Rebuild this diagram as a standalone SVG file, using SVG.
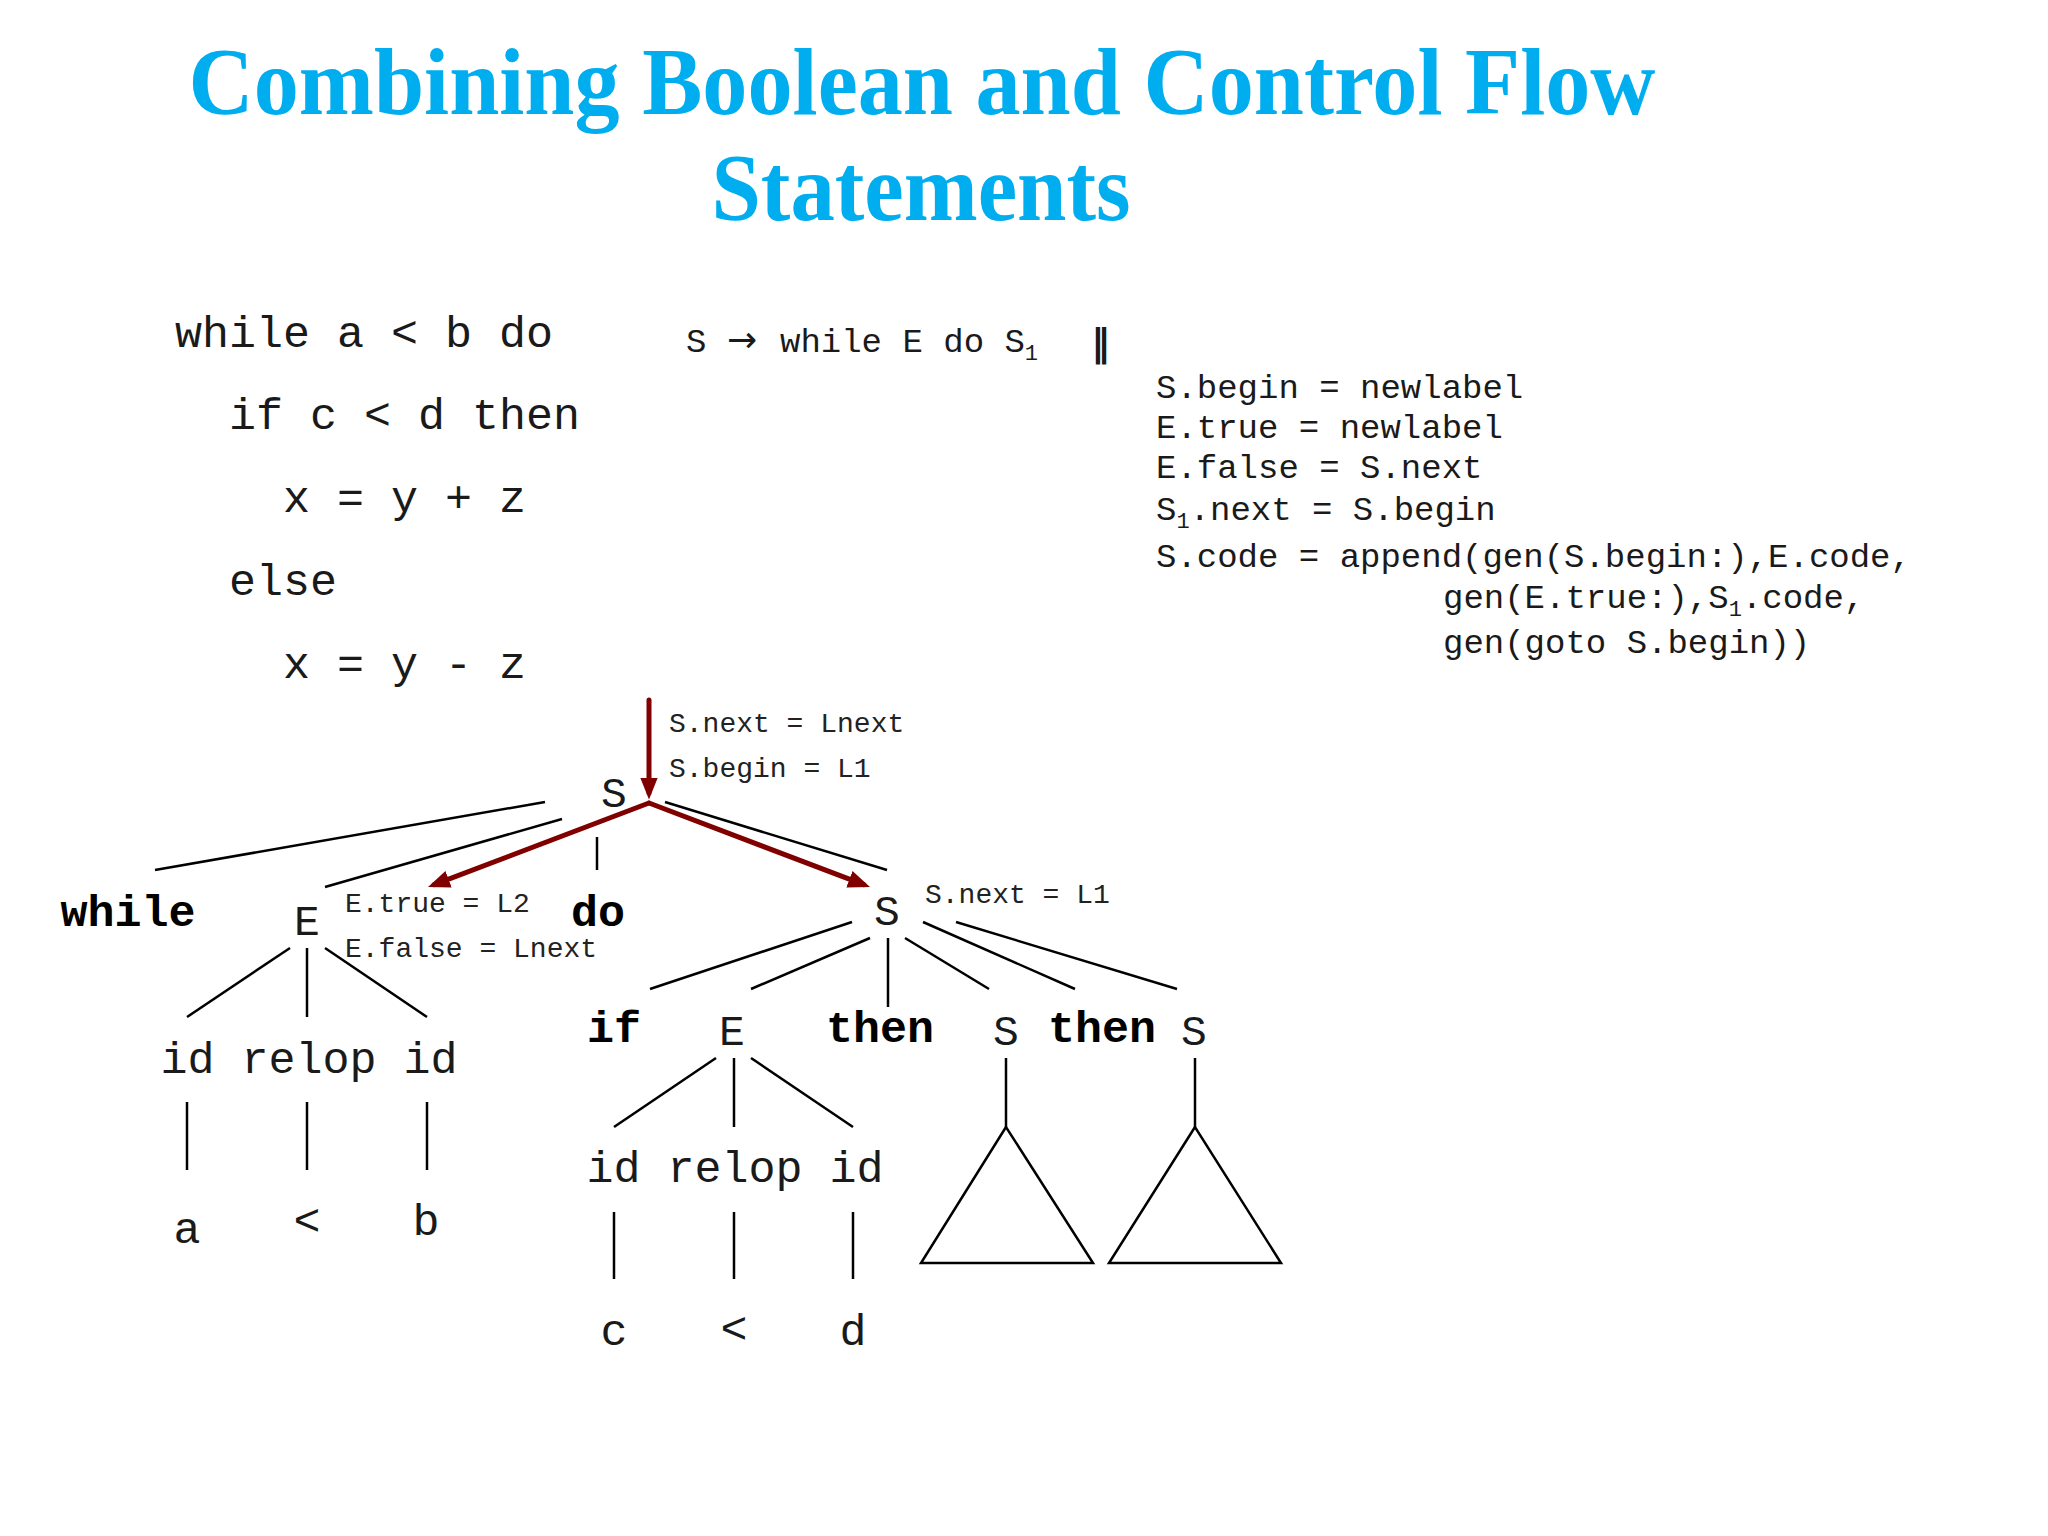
<svg xmlns="http://www.w3.org/2000/svg" width="2048" height="1536" viewBox="0 0 2048 1536">
<defs>
<style>
.title{font-family:"Liberation Serif","Times New Roman",serif;font-weight:bold;font-size:96px;fill:#00AEEF;text-anchor:middle}
.code{font-family:"Liberation Mono","Courier New",monospace;font-size:45px;fill:#1a1a1a}
.rule{font-family:"Liberation Mono","Courier New",monospace;font-size:34px;fill:#1a1a1a}
.sub{font-size:22px}
.attr{font-family:"Liberation Mono","Courier New",monospace;font-size:28px;fill:#222}
.nt{font-family:"Liberation Mono","Courier New",monospace;font-size:43px;fill:#1a1a1a;text-anchor:middle}
.kw{font-family:"Liberation Mono","Courier New",monospace;font-size:45px;font-weight:bold;fill:#000;text-anchor:middle}
.edge{stroke:#000;stroke-width:2.5;fill:none}
.red{stroke:#800000;stroke-width:5;fill:none;stroke-linecap:round}
</style>
<marker id="ah" viewBox="0 0 10 8" markerWidth="4.4" markerHeight="3.6" refX="7" refY="4" orient="auto" markerUnits="strokeWidth">
<path d="M0,0 L10,4 L0,8 z" fill="#800000"/>
</marker>
</defs>
<rect width="2048" height="1536" fill="#fff"/>

<g id="title">
<text class="title" x="922" y="114" textLength="1467" lengthAdjust="spacingAndGlyphs">Combining Boolean and Control Flow</text>
<text class="title" x="921" y="220" textLength="419" lengthAdjust="spacingAndGlyphs">Statements</text>
</g>

<g id="source-code">
<text class="code" x="175" y="347">while a &lt; b do</text>
<text class="code" x="229" y="429">if c &lt; d then</text>
<text class="code" x="283" y="512">x = y + z</text>
<text class="code" x="229" y="595">else</text>
<text class="code" x="283" y="678">x = y - z</text>
</g>

<g id="production">
<text class="rule" x="686" y="352">S</text>
<text class="rule" x="727" y="352" style="font-family:'DejaVu Sans',sans-serif;font-size:36px">→</text>
<text class="rule" x="780" y="352">while E do S<tspan class="sub" dy="8">1</tspan></text>
<text class="rule" x="1091" y="355" style="font-family:'DejaVu Sans',sans-serif;font-size:38px;font-weight:bold">‖</text>
</g>

<g id="semantic-rules">
<text class="rule" x="1156" y="398">S.begin = newlabel</text>
<text class="rule" x="1156" y="438">E.true = newlabel</text>
<text class="rule" x="1156" y="478">E.false = S.next</text>
<text class="rule" x="1156" y="520">S<tspan class="sub" dy="8">1</tspan><tspan dy="-8">.next = S.begin</tspan></text>
<text class="rule" x="1156" y="567">S.code = append(gen(S.begin:),E.code,</text>
<text class="rule" x="1443" y="608">gen(E.true:),S<tspan class="sub" dy="8">1</tspan><tspan dy="-8">.code,</tspan></text>
<text class="rule" x="1443" y="653">gen(goto S.begin))</text>
</g>

<g id="connectors">
<line class="edge" x1="545" y1="802" x2="155" y2="870"/>
<line class="edge" x1="562" y1="819" x2="325" y2="887"/>
<line class="edge" x1="597" y1="837" x2="597" y2="870"/>
<line class="edge" x1="665" y1="802" x2="887" y2="870"/>
<line class="edge" x1="290" y1="948" x2="187" y2="1017"/>
<line class="edge" x1="307" y1="948" x2="307" y2="1017"/>
<line class="edge" x1="325" y1="948" x2="427" y2="1017"/>
<line class="edge" x1="187" y1="1102" x2="187" y2="1170"/>
<line class="edge" x1="307" y1="1102" x2="307" y2="1170"/>
<line class="edge" x1="427" y1="1102" x2="427" y2="1170"/>
<line class="edge" x1="852" y1="922" x2="650" y2="989"/>
<line class="edge" x1="870" y1="938" x2="751" y2="989"/>
<line class="edge" x1="888" y1="938" x2="888" y2="1007"/>
<line class="edge" x1="905" y1="938" x2="989" y2="989"/>
<line class="edge" x1="923" y1="922" x2="1075" y2="989"/>
<line class="edge" x1="956" y1="922" x2="1177" y2="989"/>
<line class="edge" x1="716" y1="1058" x2="614" y2="1127"/>
<line class="edge" x1="734" y1="1058" x2="734" y2="1127"/>
<line class="edge" x1="751" y1="1058" x2="853" y2="1127"/>
<line class="edge" x1="614" y1="1212" x2="614" y2="1279"/>
<line class="edge" x1="734" y1="1212" x2="734" y2="1279"/>
<line class="edge" x1="853" y1="1212" x2="853" y2="1279"/>
<line class="edge" x1="1006" y1="1058" x2="1006" y2="1127"/>
<line class="edge" x1="1195" y1="1058" x2="1195" y2="1127"/>
<line class="red" x1="649" y1="700" x2="649" y2="793" marker-end="url(#ah)"/>
<line class="red" x1="649" y1="803" x2="434.2" y2="884.7" marker-end="url(#ah)"/>
<line class="red" x1="649" y1="803" x2="863.8" y2="884.7" marker-end="url(#ah)"/>
</g>

<g id="attr-labels">
<text class="attr" x="669" y="732">S.next = Lnext</text>
<text class="attr" x="669" y="777">S.begin = L1</text>
<text class="attr" x="345" y="912">E.true = L2</text>
<text class="attr" x="345" y="957">E.false = Lnext</text>
<text class="attr" x="925" y="903">S.next = L1</text>
</g>

<g id="node-S-root"><text class="nt" x="614" y="807">S</text></g>
<g id="node-while"><text class="kw" x="128" y="926">while</text></g>
<g id="node-E1"><text class="nt" x="307" y="935">E</text></g>
<g id="node-do"><text class="kw" x="598" y="926">do</text></g>
<g id="node-S1"><text class="nt" x="887" y="925">S</text></g>
<g id="node-E1-children"><text class="code" x="309" y="1073" text-anchor="middle">id relop id</text></g>
<g id="node-a"><text class="code" x="187" y="1243" text-anchor="middle">a</text></g>
<g id="node-lt1"><text class="code" x="307" y="1235" text-anchor="middle">&lt;</text></g>
<g id="node-b"><text class="code" x="426" y="1235" text-anchor="middle">b</text></g>
<g id="node-if"><text class="kw" x="614" y="1042">if</text></g>
<g id="node-E2"><text class="nt" x="732" y="1045">E</text></g>
<g id="node-then1"><text class="kw" x="880" y="1042">then</text></g>
<g id="node-S2"><text class="nt" x="1006" y="1045">S</text></g>
<g id="node-then2"><text class="kw" x="1102" y="1042">then</text></g>
<g id="node-S3"><text class="nt" x="1194" y="1045">S</text></g>
<g id="node-E2-children"><text class="code" x="735" y="1182" text-anchor="middle">id relop id</text></g>
<g id="node-c"><text class="code" x="614" y="1345" text-anchor="middle">c</text></g>
<g id="node-lt2"><text class="code" x="734" y="1343" text-anchor="middle">&lt;</text></g>
<g id="node-d"><text class="code" x="853" y="1345" text-anchor="middle">d</text></g>
<g id="node-tri1"><polygon class="edge" points="1006,1127 921,1263 1093,1263"/></g>
<g id="node-tri2"><polygon class="edge" points="1195,1127 1109,1263 1281,1263"/></g>
</svg>
